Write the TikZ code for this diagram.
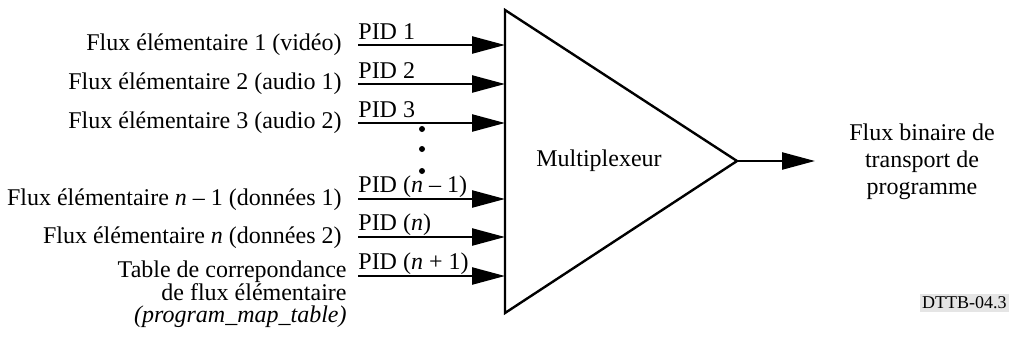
\documentclass[tikz,border=0pt]{standalone}
\usepackage{fontspec}
\setmainfont{Liberation Serif}
\usetikzlibrary{arrows.meta}
\tikzset{
  lbl/.style={inner sep=0pt, font=\fontsize{12}{13.5}\selectfont},
  pid/.style={lbl, anchor=base west},
  src/.style={lbl, anchor=base east},
  flow/.style={line width=1.2pt, -{Triangle[length=16.5pt,width=8.5pt]}},
  body/.style={line width=1.2pt, line join=miter},
  dotm/.style={circle, fill=black, inner sep=0pt, minimum size=3pt}
}
\begin{document}
\begin{tikzpicture}[x=0.5pt,y=-0.5pt]
\useasboundingbox (0,0) rectangle (1010,338);
% multiplexer triangle
\coordinate (tl) at (505,10);
\coordinate (bl) at (505,313);
\coordinate (ap) at (737,161);
\draw[body] (tl) -- (ap) -- (bl) -- cycle;
\node[lbl] (mux) at (599,161) {Multiplexeur};
% inputs
\foreach \i/\y in {1/45,2/84,3/123,4/199,5/237,6/276}{
  \coordinate (s\i) at (358,\y);
  \coordinate (e\i) at (505,\y);
  \draw[flow] (s\i) -- (e\i);
}
\node[pid] (p1) at (358,39) {PID 1};
\node[pid] (p2) at (358,78) {PID 2};
\node[pid] (p3) at (358,117) {PID 3};
\node[pid] (p4) at (358,192) {PID (\textit{n} – 1)};
\node[pid] (p5) at (358,230) {PID (\textit{n})};
\node[pid] (p6) at (358,269) {PID (\textit{n} + 1)};
\node[src] (l1) at (342,50.5) {Flux élémentaire 1 (vidéo)};
\node[src] (l2) at (342,89.5) {Flux élémentaire 2 (audio 1)};
\node[src] (l3) at (342,128.5) {Flux élémentaire 3 (audio 2)};
\node[src] (l4) at (342,205) {Flux élémentaire \textit{n} – 1 (données 1)};
\node[src] (l5) at (342,243) {Flux élémentaire \textit{n} (données 2)};
\node[lbl, anchor=north east, align=right, font=\fontsize{12}{11.25}\selectfont] (l6) at (347,260.5)
  {Table de correpondance\\de flux élémentaire\\\textit{(program\_map\_table)}};
% dots
\node[dotm] (d1) at (422,129) {};
\node[dotm] (d2) at (422,149) {};
\node[dotm] (d3) at (422,171) {};
% output
\coordinate (out) at (815,161);
\draw[flow] (ap) -- (out);
\node[lbl, align=center] (o) at (922,162) {Flux binaire de\\transport de\\programme};
\node[anchor=east, fill=black!10, inner xsep=1pt, inner ysep=1.5pt, font=\fontsize{9}{10}\selectfont] (ref) at (1009,303) {DTTB-04.3};
\end{tikzpicture}
\end{document}
